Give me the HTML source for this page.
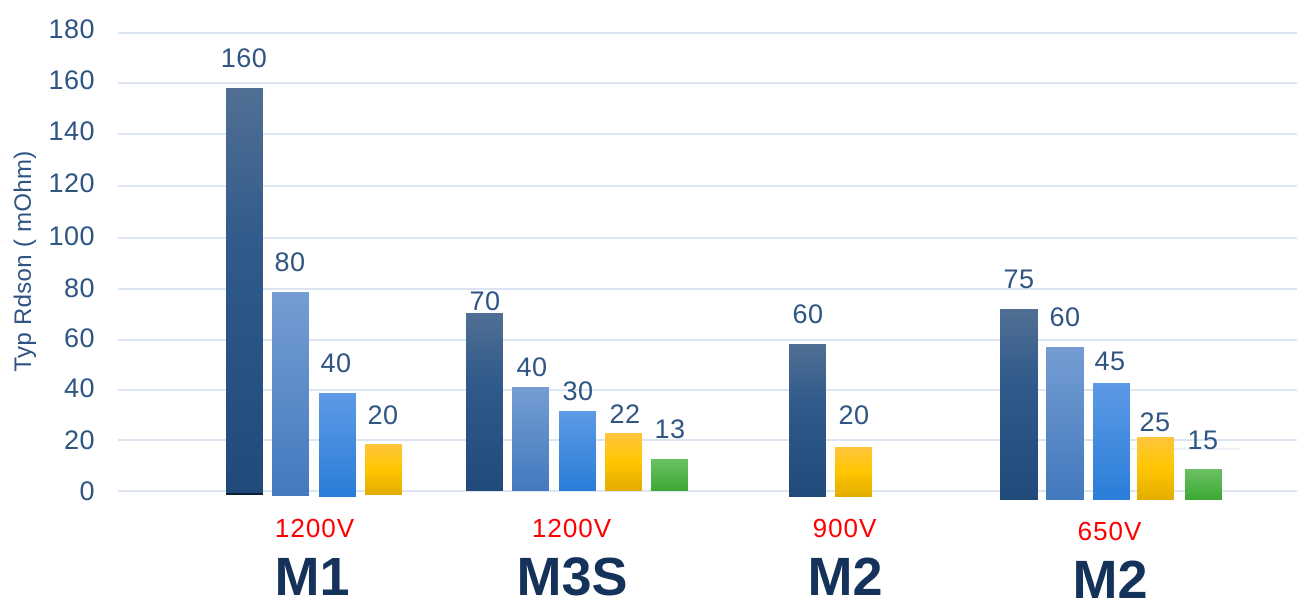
<!DOCTYPE html>
<html><head><meta charset="utf-8"><style>
body{margin:0;background:#fff;width:1297px;height:606px;overflow:hidden}
svg{display:block;font-family:"Liberation Sans",sans-serif}
</style></head><body>
<svg width="1297" height="606" viewBox="0 0 1297 606">
<defs>
<linearGradient id="g1" x1="0" y1="0" x2="0" y2="1"><stop offset="0" stop-color="#516f94"/><stop offset="0.4" stop-color="#2f5a8a"/><stop offset="1" stop-color="#1f4a7a"/></linearGradient>
<linearGradient id="g2" x1="0" y1="0" x2="0" y2="1"><stop offset="0" stop-color="#759dd3"/><stop offset="1" stop-color="#4379be"/></linearGradient>
<linearGradient id="g3" x1="0" y1="0" x2="0" y2="1"><stop offset="0" stop-color="#5d9ae6"/><stop offset="1" stop-color="#2a7dd8"/></linearGradient>
<linearGradient id="g4" x1="0" y1="0" x2="0" y2="1"><stop offset="0" stop-color="#ffc53e"/><stop offset="0.5" stop-color="#ffc600"/><stop offset="1" stop-color="#e2ad00"/></linearGradient>
<linearGradient id="g5" x1="0" y1="0" x2="0" y2="1"><stop offset="0" stop-color="#6cc163"/><stop offset="1" stop-color="#3ca934"/></linearGradient>
</defs>
<g stroke="#dbe6f2" stroke-width="2">
<line x1="118" y1="33" x2="1297" y2="33"/><line x1="118" y1="83" x2="1297" y2="83"/>
<line x1="118" y1="134" x2="1297" y2="134"/><line x1="118" y1="186" x2="1297" y2="186"/>
<line x1="118" y1="238" x2="1297" y2="238"/><line x1="118" y1="289" x2="1297" y2="289"/>
<line x1="118" y1="340" x2="1297" y2="340"/><line x1="118" y1="390" x2="1297" y2="390"/>
<line x1="118" y1="440" x2="1297" y2="440"/><line x1="118" y1="491" x2="1297" y2="491"/>
<line x1="1130" y1="449" x2="1240" y2="449" stroke-width="1"/>
</g>
<g fill="#2f5583" font-size="27" text-anchor="end" letter-spacing="0.5">
<text x="95" y="38">180</text><text x="95" y="89">160</text><text x="95" y="140">140</text>
<text x="95" y="192">120</text><text x="95" y="245">100</text><text x="95" y="297">80</text>
<text x="95" y="347">60</text><text x="95" y="397">40</text><text x="95" y="449">20</text><text x="95" y="500">0</text>
</g>
<text transform="translate(31,261) rotate(-90)" fill="#2f5583" font-size="24" text-anchor="middle" letter-spacing="0.3">Typ Rdson ( mOhm)</text>
<rect x="226" y="88" width="37" height="407" fill="url(#g1)"/><rect x="226" y="493" width="37" height="2" fill="#0d2033"/>
<rect x="272" y="292" width="37" height="204" fill="url(#g2)"/>
<rect x="319" y="393" width="37" height="104" fill="url(#g3)"/>
<rect x="365" y="444" width="37" height="51" fill="url(#g4)"/>
<rect x="466" y="313" width="37" height="178" fill="url(#g1)"/>
<rect x="512" y="387" width="37" height="104" fill="url(#g2)"/>
<rect x="559" y="411" width="37" height="80" fill="url(#g3)"/>
<rect x="605" y="433" width="37" height="58" fill="url(#g4)"/>
<rect x="651" y="459" width="37" height="32" fill="url(#g5)"/>
<rect x="789" y="344" width="37" height="153" fill="url(#g1)"/>
<rect x="835" y="447" width="37" height="50" fill="url(#g4)"/>
<rect x="1000" y="309" width="38" height="191" fill="url(#g1)"/>
<rect x="1046" y="347" width="38" height="153" fill="url(#g2)"/>
<rect x="1093" y="383" width="37" height="117" fill="url(#g3)"/>
<rect x="1137" y="437" width="37" height="63" fill="url(#g4)"/>
<rect x="1185" y="469" width="37" height="31" fill="url(#g5)"/>
<g fill="#2f5583" font-size="27" text-anchor="middle" letter-spacing="0.5">
<text x="244" y="67">160</text><text x="290" y="271">80</text><text x="336" y="372">40</text><text x="383" y="424">20</text>
<text x="485" y="310">70</text><text x="532" y="376">40</text><text x="578" y="400">30</text><text x="625" y="423">22</text><text x="670" y="438">13</text>
<text x="808" y="323">60</text><text x="854" y="424">20</text>
<text x="1019" y="288">75</text><text x="1065" y="326">60</text><text x="1110" y="370">45</text><text x="1155" y="431">25</text><text x="1203" y="449">15</text>
</g>
<g fill="#ff0000" font-size="26" text-anchor="middle" letter-spacing="1">
<text x="315" y="537">1200V</text><text x="572" y="537">1200V</text><text x="845" y="537">900V</text><text x="1110" y="540">650V</text>
</g>
<g fill="#14325a" font-size="54" font-weight="bold" text-anchor="middle">
<text x="312" y="595">M1</text><text x="572" y="595">M3S</text><text x="845" y="595">M2</text><text x="1110" y="598">M2</text>
</g>
</svg>
</body></html>
